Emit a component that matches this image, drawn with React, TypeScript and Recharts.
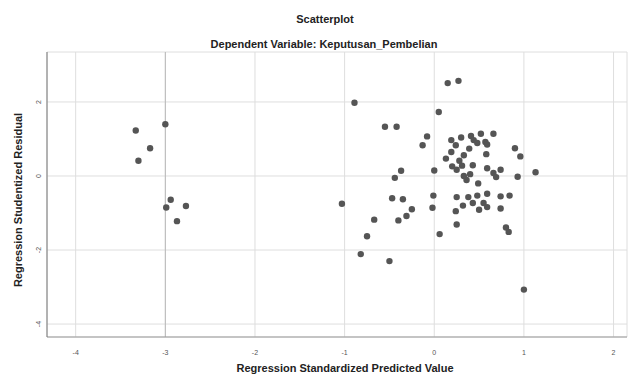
import React from 'react';
import { CartesianGrid, ReferenceLine, Scatter, ScatterChart, XAxis, YAxis } from 'recharts';

// predicted value (x) / studentized residual (y)
const predicted: number[] = [
  -3.33, -3.0, -3.17, -3.3, -2.94, -2.99, -2.77, -2.87,
  -0.89, 0.15, 0.27, 0.05, -0.55, -0.42, -0.08, -0.13,
  -1.03, -0.47, -0.35, -0.25, -0.31, -0.4, -0.67, -0.75, -0.82, -0.5, 0.06, 1.0,
  -0.37, -0.44, 0.0, -0.01, -0.02,
  0.19, 0.3, 0.41, 0.52, 0.66, 0.24, 0.44, 0.57, 0.59, 0.48, 0.19, 0.39, 0.33, 0.58, 0.13, 0.9, 0.96,
  0.2, 0.31, 0.43, 0.59, 0.66, 0.74, 0.25, 0.33, 0.36, 0.4, 0.49, 0.69, 0.93, 1.13, 0.28,
  0.25, 0.38, 0.48, 0.59, 0.74, 0.84, 0.32, 0.43, 0.55, 0.59, 0.5, 0.24, 0.74, 0.25, 0.8, 0.83,
];
const residual: number[] = [
  1.23, 1.4, 0.75, 0.41, -0.64, -0.85, -0.81, -1.22,
  1.98, 2.51, 2.57, 1.73, 1.33, 1.33, 1.07, 0.83,
  -0.75, -0.6, -0.63, -0.9, -1.08, -1.2, -1.18, -1.63, -2.11, -2.3, -1.57, -3.07,
  0.14, -0.05, 0.15, -0.53, -0.86,
  0.97, 1.04, 1.08, 1.14, 1.14, 0.83, 0.97, 0.92, 0.85, 0.89, 0.65, 0.74, 0.56, 0.59, 0.47, 0.75, 0.53,
  0.26, 0.28, 0.29, 0.21, 0.08, 0.17, 0.17, 0.0, -0.11, 0.05, -0.2, -0.03, -0.02, 0.1, 0.41,
  -0.57, -0.57, -0.53, -0.48, -0.55, -0.53, -0.8, -0.73, -0.73, -0.84, -0.91, -0.95, -0.88, -1.31, -1.39, -1.51,
];

const xTicks = [-4, -3, -2, -1, 0, 1, 2];
const yTicks = [-4, -2, 0, 2];

const points = predicted.map((x, i) => ({ x, y: residual[i] }));

const font = '"Liberation Sans", Arial, sans-serif';

const yTick = ({ x, y, payload }: any) => {
  const tx = x - 4;
  return (
    <text x={tx} y={y} transform={`rotate(-90 ${tx} ${y})`} textAnchor="middle" fontSize={7} fill="#555" fontFamily={font}>
      {payload.value}
    </text>
  );
};

const xTick = ({ x, y, payload }: any) => (
  <text x={x} y={y + 16} textAnchor="middle" fontSize={7} fill="#555" fontFamily={font}>
    {payload.value}
  </text>
);

const dot = ({ cx, cy }: any) => <circle cx={cx} cy={cy} r={3.2} fill="#555" />;

export default function App() {
  return (
    <div style={{ position: 'absolute', left: 0, top: 0, width: 631, height: 379, background: '#fff', fontFamily: font }}>
      <div style={{ position: 'absolute', left: 0, width: 650, top: 13, textAlign: 'center', fontSize: 11, fontWeight: 'bold', color: '#222' }}>
        Scatterplot
      </div>
      <div style={{ position: 'absolute', left: 0, width: 648, top: 38, textAlign: 'center', fontSize: 11, fontWeight: 'bold', color: '#222' }}>
        Dependent Variable: Keputusan_Pembelian
      </div>
      <ScatterChart width={631} height={379} margin={{ top: 52, right: 4, bottom: 0, left: 0 }}>
        <CartesianGrid stroke="#dedede" />
        <XAxis
          type="number"
          dataKey="x"
          domain={[-4.32, 2.15]}
          ticks={xTicks}
          allowDataOverflow
          tickSize={0}
          tick={xTick}
          axisLine={{ stroke: '#999' }}
          height={42}
        />
        <YAxis
          type="number"
          dataKey="y"
          domain={[-4.35, 3.35]}
          ticks={yTicks}
          allowDataOverflow
          tickSize={0}
          tick={yTick}
          axisLine={{ stroke: '#777' }}
          width={47}
        />
        <ReferenceLine x={-3} stroke="#b8b8b8" />
        <Scatter data={points} fill="#555" shape={dot} isAnimationActive={false} />
      </ScatterChart>
      <div style={{ position: 'absolute', left: 0, width: 690, top: 362, textAlign: 'center', fontSize: 11, fontWeight: 'bold', color: '#222' }}>
        Regression Standardized Predicted Value
      </div>
      <div
        style={{
          position: 'absolute',
          left: 18,
          top: 200,
          transform: 'translate(-50%, -50%) rotate(-90deg)',
          whiteSpace: 'nowrap',
          fontSize: 11,
          fontWeight: 'bold',
          color: '#222',
        }}
      >
        Regression Studentized Residual
      </div>
    </div>
  );
}
